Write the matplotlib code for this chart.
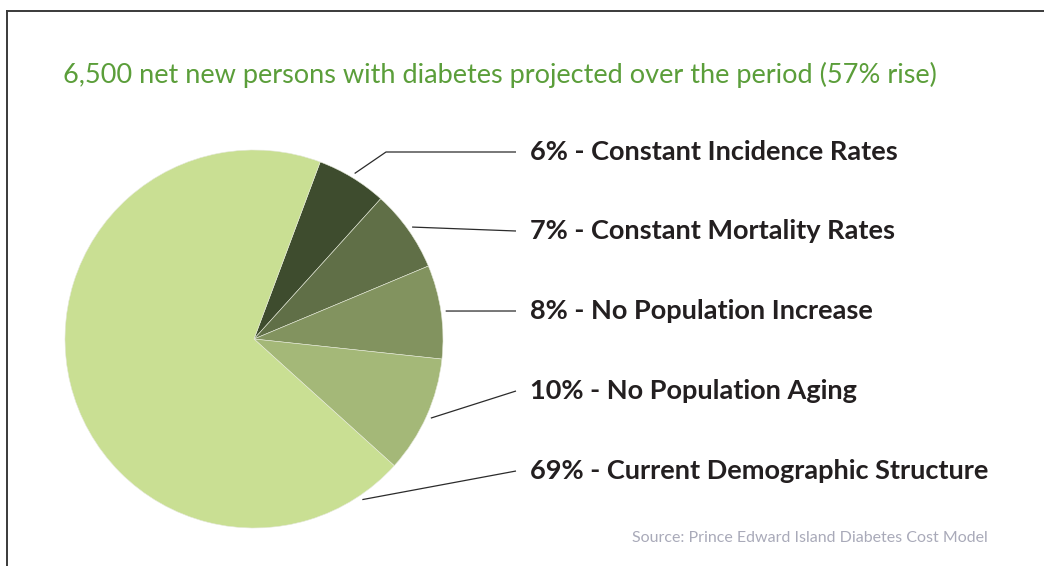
import matplotlib
matplotlib.use("Agg")
import numpy as np
import matplotlib.pyplot as plt

# Données du graphique
shares = [6, 7, 8, 10, 69]
labels = ["6% - Constant Incidence Rates",
          "7% - Constant Mortality Rates",
          "8% - No Population Increase",
          "10% - No Population Aging",
          "69% - Current Demographic Structure"]
colors = ["#3e4c2e", "#606f47", "#82935f", "#a4b878", "#c9df93"]
title = "6,500 net new persons with diabetes projected over the period (57% rise)"
source = "Source: Prince Edward Island Diabetes Cost Model"

W, H = 1044, 566
fig = plt.figure(figsize=(W / 100, H / 100), dpi=100)
ax = fig.add_axes([0, 0, 1, 1])

# Camembert (pixels, y vers le haut)
cx, cy, r = 254, 227, 189
wedges, _ = ax.pie(shares, colors=colors, startangle=69.5, counterclock=False,
                   center=(cx, cy), radius=r,
                   wedgeprops=dict(linewidth=0.4, edgecolor="#e4e8d8"))
ax.set_xlim(0, W)
ax.set_ylim(0, H)
ax.set_aspect("equal")
ax.axis("off")

# Étiquettes et lignes de rappel
label_y = [414, 335, 255, 175, 95]
label_x = 530
line_end = 516
anchor_ang = []
for i, w in enumerate(wedges):
    anchor_ang.append((w.theta1 + w.theta2) / 2)
anchor_ang[-1] = -56  # la grande part: ligne plus bas
for ang, y, txt in zip(anchor_ang, label_y, labels):
    a = np.deg2rad(ang)
    x0 = cx + 1.025 * r * np.cos(a)
    y0 = cy + 1.025 * r * np.sin(a)
    if txt.startswith("6%"):
        xs, ys = [x0, 386, line_end], [y0, y, y]
    else:
        xs, ys = [x0, line_end], [y0, y]
    ax.plot(xs, ys, color="#2b2b2b", lw=0.9, solid_capstyle="butt")
    ax.text(label_x, y, txt, fontsize=19.5, fontweight="bold", family="Lato",
            color="#231f20", ha="left", va="center")

ax.text(63, 491, title, fontsize=19.5, family="Lato", color="#5b9e3a",
        ha="left", va="center")
ax.text(988, 28, source, fontsize=11.5, family="Lato", color="#a9aab9",
        ha="right", va="center")

# Cadre haut et gauche
ax.plot([6.5, W], [555.5, 555.5], color="#3a3a3a", lw=1.4)
ax.plot([6.5, 6.5], [0, 555.5], color="#3a3a3a", lw=1.4)

fig.savefig("out.png", dpi=100)
